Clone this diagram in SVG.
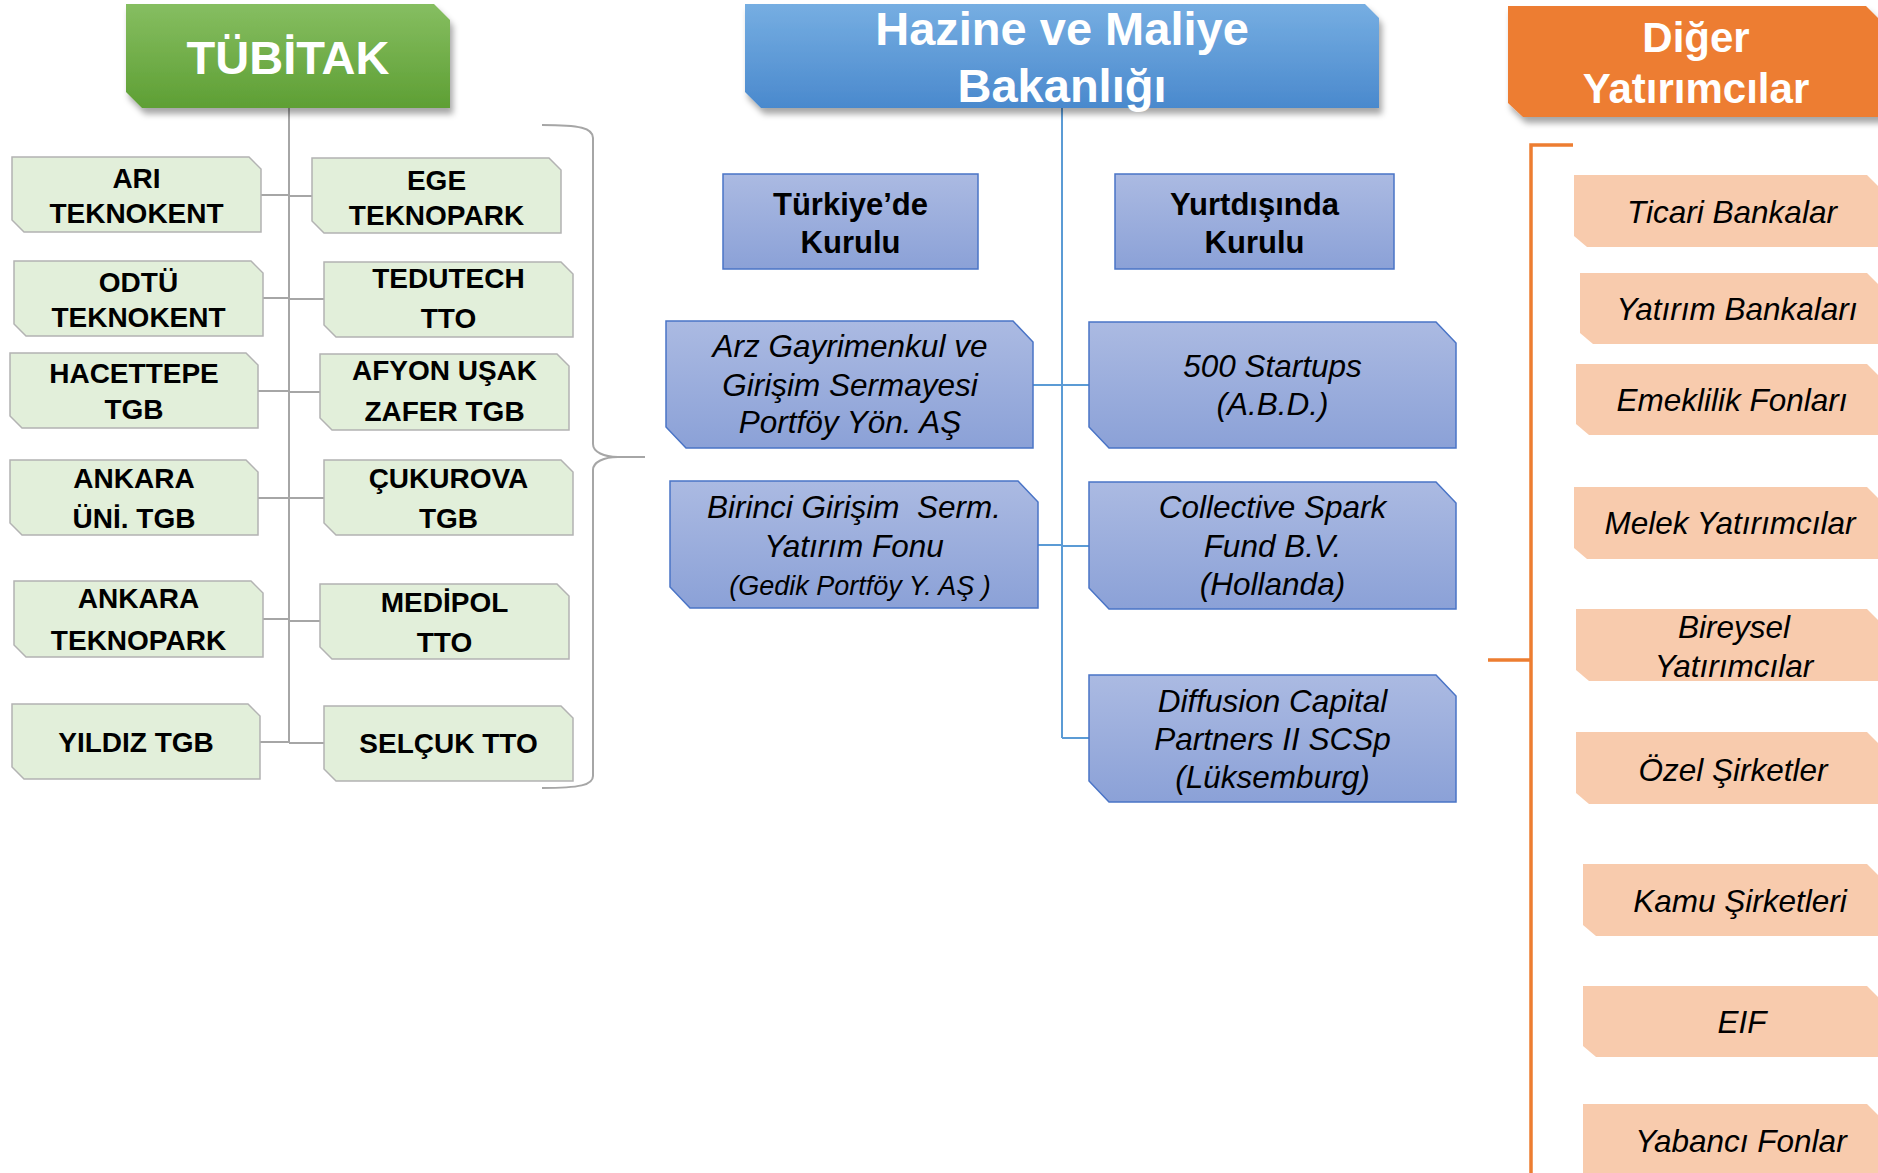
<svg xmlns="http://www.w3.org/2000/svg" width="1878" height="1173" viewBox="0 0 1878 1173">
<defs>
<linearGradient id="gGreen" x1="0" y1="0" x2="0" y2="1"><stop offset="0" stop-color="#86BE61"/><stop offset="1" stop-color="#5E9F34"/></linearGradient>
<linearGradient id="gBlueH" x1="0" y1="0" x2="0" y2="1"><stop offset="0" stop-color="#76AEE2"/><stop offset="1" stop-color="#4A89CD"/></linearGradient>
<linearGradient id="gBlue" x1="0" y1="0" x2="0" y2="1"><stop offset="0" stop-color="#ABBAE2"/><stop offset="1" stop-color="#8BA1D7"/></linearGradient>
<filter id="sh" x="-10%" y="-10%" width="130%" height="140%"><feDropShadow dx="3" dy="6" stdDeviation="3" flood-color="#000" flood-opacity="0.35"/></filter>
<style>
text{font-family:"Liberation Sans",Arial,sans-serif;text-anchor:middle}
.hd{fill:#fff;font-weight:bold}
.gb{fill:#E2EFDA;stroke:#B3B3B3;stroke-width:1.5}
.gt{font-size:28px;font-weight:bold;fill:#000}
.bb{fill:url(#gBlue);stroke:#4A74C6;stroke-width:1.5}
.bt{font-size:31.5px;font-style:italic;fill:#000}
.bs{font-size:27px;font-style:italic;fill:#000}
.bh{font-size:31px;font-weight:bold;fill:#000}
.pb{fill:#F8CBAD}
.pt{font-size:31.5px;font-style:italic;fill:#000}
.gc{stroke:#A6A6A6;stroke-width:2;fill:none}
.bc{stroke:#5B9BD5;stroke-width:2;fill:none}
.oc{stroke:#ED7D31;stroke-width:3.5;fill:none}
</style>
</defs>
<rect width="1878" height="1173" fill="#fff"/>

<g id="connectors">
<path class="gc" d="M289,108 V743 M261,195 H289 M289,196 H312 M263,298 H289 M289,299 H324 M258,391 H289 M289,392 H320 M258,498 H324 M263,619 H289 M289,621 H320 M260,742 H289 M289,743 H324"/>
<path class="gc" stroke-width="2.5" d="M542,125 C580,125 593,128 593,138 V444 C593,452 604,457 618,457 H645 M618,457 C604,457 593,462 593,470 V776 C593,785 580,788 542,788"/>
<path class="bc" d="M1062,108 V738 M1033,385 H1089 M1038,545 H1062 M1062,546 H1089 M1062,738 H1089"/>
<path class="oc" d="M1573,145 H1531 V1173 M1488,660 H1531"/>
</g>

<g id="tubitak">
<polygon points="126,4 434,4 450,20 450,108 142,108 126,92" fill="url(#gGreen)" filter="url(#sh)"/>
<text class="hd" x="288" y="74" font-size="47">TÜBİTAK</text>
</g>
<g id="hazine">
<polygon points="745,4 1365,4 1379,18 1379,108 761,108 745,92" fill="url(#gBlueH)" filter="url(#sh)"/>
<text class="hd" x="1062" y="45" font-size="47">Hazine ve Maliye</text>
<text class="hd" x="1062" y="102" font-size="47">Bakanlığı</text>
</g>
<g id="diger">
<polygon points="1508,6 1866,6 1884,24 1884,117 1523,117 1508,103" fill="#ED7D31" filter="url(#sh)"/>
<text class="hd" x="1696" y="52" font-size="42">Diğer</text>
<text class="hd" x="1696" y="103" font-size="42">Yatırımcılar</text>
</g>

<g id="ari"><polygon class="gb" points="12,157 249,157 261,169 261,232 24,232 12,220"/><text class="gt" x="136.5" y="188">ARI</text><text class="gt" x="136.5" y="223">TEKNOKENT</text></g>
<g id="ege"><polygon class="gb" points="312,158 549,158 561,170 561,233 324,233 312,221"/><text class="gt" x="436.5" y="190">EGE</text><text class="gt" x="436.5" y="225">TEKNOPARK</text></g>
<g id="odtu"><polygon class="gb" points="14,261 251,261 263,273 263,336 26,336 14,324"/><text class="gt" x="138.5" y="292">ODTÜ</text><text class="gt" x="138.5" y="327">TEKNOKENT</text></g>
<g id="tedutech"><polygon class="gb" points="324,262 561,262 573,274 573,337 336,337 324,325"/><text class="gt" x="448.5" y="288">TEDUTECH</text><text class="gt" x="448.5" y="328">TTO</text></g>
<g id="hacettepe"><polygon class="gb" points="10,353 246,353 258,365 258,428 22,428 10,416"/><text class="gt" x="134" y="383">HACETTEPE</text><text class="gt" x="134" y="419">TGB</text></g>
<g id="afyon"><polygon class="gb" points="320,354 557,354 569,366 569,430 332,430 320,418"/><text class="gt" x="444.5" y="380">AFYON UŞAK</text><text class="gt" x="444.5" y="421">ZAFER TGB</text></g>
<g id="ankarauni"><polygon class="gb" points="10,460 246,460 258,472 258,535 22,535 10,523"/><text class="gt" x="134" y="488">ANKARA</text><text class="gt" x="134" y="528">ÜNİ. TGB</text></g>
<g id="cukurova"><polygon class="gb" points="324,460 561,460 573,472 573,535 336,535 324,523"/><text class="gt" x="448.5" y="488">ÇUKUROVA</text><text class="gt" x="448.5" y="528">TGB</text></g>
<g id="ankarateknopark"><polygon class="gb" points="14,581 251,581 263,593 263,657 26,657 14,645"/><text class="gt" x="138.5" y="608">ANKARA</text><text class="gt" x="138.5" y="650">TEKNOPARK</text></g>
<g id="medipol"><polygon class="gb" points="320,584 557,584 569,596 569,659 332,659 320,647"/><text class="gt" x="444.5" y="612">MEDİPOL</text><text class="gt" x="444.5" y="652">TTO</text></g>
<g id="yildiz"><polygon class="gb" points="12,704 248,704 260,716 260,779 24,779 12,767"/><text class="gt" x="136" y="752">YILDIZ TGB</text></g>
<g id="selcuk"><polygon class="gb" points="324,706 561,706 573,718 573,781 336,781 324,769"/><text class="gt" x="448.5" y="753">SELÇUK TTO</text></g>

<g id="turkiyede"><rect class="bb" x="723" y="174" width="255" height="95"/><text class="bh" x="850.5" y="215">Türkiye’de</text><text class="bh" x="850.5" y="253">Kurulu</text></g>
<g id="yurtdisinda"><rect class="bb" x="1115" y="174" width="279" height="95"/><text class="bh" x="1254.5" y="215">Yurtdışında</text><text class="bh" x="1254.5" y="253">Kurulu</text></g>

<g id="arz"><polygon class="bb" points="666,321 1013,321 1033,342 1033,448 686,448 666,427"/><text class="bt" x="850" y="357">Arz Gayrimenkul ve</text><text class="bt" x="850" y="396">Girişim Sermayesi</text><text class="bt" x="850" y="433">Portföy Yön. AŞ</text></g>
<g id="startups"><polygon class="bb" points="1089,322 1436,322 1456,343 1456,448 1109,448 1089,427"/><text class="bt" x="1272.5" y="377">500 Startups</text><text class="bt" x="1272.5" y="415">(A.B.D.)</text></g>
<g id="birinci"><polygon class="bb" points="670,481 1018,481 1038,502 1038,608 690,608 670,587"/><text class="bt" x="854" y="518" xml:space="preserve">Birinci Girişim  Serm.</text><text class="bt" x="854" y="557">Yatırım Fonu</text><text class="bs" x="860" y="595">(Gedik Portföy Y. AŞ )</text></g>
<g id="collective"><polygon class="bb" points="1089,482 1436,482 1456,503 1456,609 1109,609 1089,588"/><text class="bt" x="1272.5" y="518">Collective Spark</text><text class="bt" x="1272.5" y="557">Fund B.V.</text><text class="bt" x="1272.5" y="595">(Hollanda)</text></g>
<g id="diffusion"><polygon class="bb" points="1089,675 1436,675 1456,696 1456,802 1109,802 1089,781"/><text class="bt" x="1272.5" y="712">Diffusion Capital</text><text class="bt" x="1272.5" y="750">Partners II SCSp</text><text class="bt" x="1272.5" y="788">(Lüksemburg)</text></g>

<g id="ticari"><polygon class="pb" points="1574,175 1867,175 1880,188 1880,247 1587,247 1574,236"/><text class="pt" x="1732" y="223">Ticari Bankalar</text></g>
<g id="yatirimbank"><polygon class="pb" points="1580,273 1867,273 1880,286 1880,344 1593,344 1580,333"/><text class="pt" x="1737" y="320">Yatırım Bankaları</text></g>
<g id="emeklilik"><polygon class="pb" points="1576,364 1867,364 1880,377 1880,435 1589,435 1576,424"/><text class="pt" x="1732" y="411">Emeklilik Fonları</text></g>
<g id="melek"><polygon class="pb" points="1574,487 1867,487 1880,500 1880,559 1587,559 1574,548"/><text class="pt" x="1730" y="534">Melek Yatırımcılar</text></g>
<g id="bireysel"><polygon class="pb" points="1576,609 1867,609 1880,622 1880,681 1589,681 1576,670"/><text class="pt" x="1734" y="638">Bireysel</text><text class="pt" x="1734" y="677">Yatırımcılar</text></g>
<g id="ozel"><polygon class="pb" points="1576,732 1867,732 1880,745 1880,804 1589,804 1576,793"/><text class="pt" x="1733" y="781">Özel Şirketler</text></g>
<g id="kamu"><polygon class="pb" points="1583,864 1867,864 1880,877 1880,936 1596,936 1583,925"/><text class="pt" x="1740" y="912">Kamu Şirketleri</text></g>
<g id="eif"><polygon class="pb" points="1583,986 1867,986 1880,999 1880,1057 1596,1057 1583,1046"/><text class="pt" x="1742" y="1033">EIF</text></g>
<g id="yabanci"><polygon class="pb" points="1583,1104 1867,1104 1880,1117 1880,1185 1583,1185"/><text class="pt" x="1741" y="1152">Yabancı Fonlar</text></g>
</svg>
